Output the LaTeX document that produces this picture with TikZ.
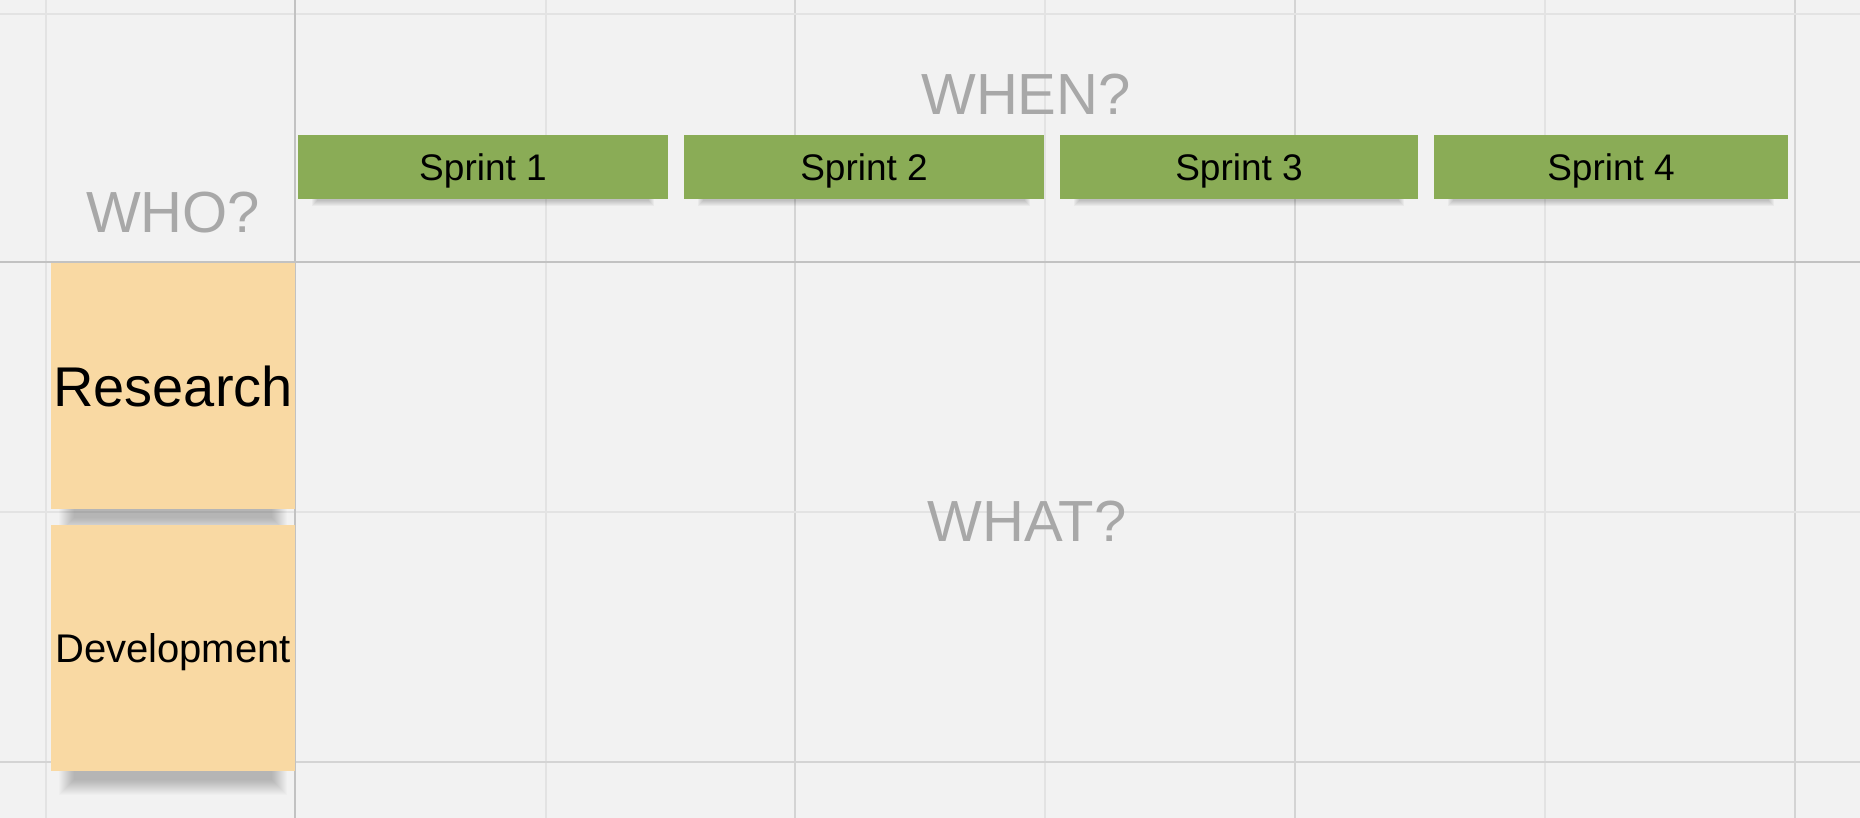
\documentclass[tikz,border=0pt]{standalone}
\usepackage{fontspec}
\setmainfont{Liberation Sans}
\definecolor{bg}{HTML}{F2F2F2}
\definecolor{gridminor}{HTML}{E3E3E3}
\definecolor{gridmajor}{HTML}{D4D4D4}
\definecolor{gridmain}{HTML}{C2C2C2}
\definecolor{sprintgreen}{HTML}{8AAC56}
\definecolor{stickyorange}{HTML}{F9D9A3}
\definecolor{labelgray}{HTML}{A8A8A8}
\newcommand\stickyshadow[4]{%
  \foreach \k in {0,...,15} {%
    \fill[black, opacity=0.014] (#1+8+\k, #2+10+\k) rectangle (#3-8-\k, #4+24-\k);
  }%
}
\newcommand\sprintshadow[4]{%
  \foreach \k in {0,...,5} {%
    \fill[black, opacity=0.035] (#1+14+\k, #2+2+\k) rectangle (#3-14-\k, #4+7-\k);
  }%
}
\begin{document}
\begin{tikzpicture}[x=1pt,y=-1pt,
  minorline/.style={draw=gridminor, line width=2pt},
  majorline/.style={draw=gridmajor, line width=2.2pt},
  mainline/.style={draw=gridmain, line width=2.6pt},
  sprintbox/.style={fill=sprintgreen, inner sep=0pt, minimum height=64pt,
    font=\fontsize{37}{37}\selectfont, text height=26.5pt, text depth=0pt},
  stickybox/.style={fill=stickyorange, inner sep=0pt, minimum width=244pt, minimum height=246pt},
  headlabel/.style={text=labelgray, anchor=base, inner sep=0pt, font=\fontsize{58}{58}\selectfont}
]
\useasboundingbox (0,0) rectangle (1860,818);
\fill[bg] (0,0) rectangle (1860,818);
% grid
\foreach \x in {46,546,1045,1545} \draw[minorline] (\x,0) -- (\x,818);
\foreach \x in {795,1295,1795} \draw[majorline] (\x,0) -- (\x,818);
\foreach \y in {14,512} \draw[minorline] (0,\y) -- (1860,\y);
\draw[majorline] (0,762) -- (1860,762);
\draw[mainline] (295,0) -- (295,818);
\draw[mainline] (0,262) -- (1860,262);
% labels
\node[headlabel] (when) at (1026,115) {WHEN?};
\node[headlabel] (who) at (173,233) {WHO?};
\node[headlabel] (what) at (1027,541) {WHAT?};
% shadows
\sprintshadow{298}{135}{668}{199}
\sprintshadow{684}{135}{1044}{199}
\sprintshadow{1060}{135}{1418}{199}
\sprintshadow{1434}{135}{1788}{199}
\stickyshadow{51}{263}{295}{509}
\stickyshadow{51}{525}{295}{771}
% sprints
\node[sprintbox, minimum width=370pt] (s1) at (483,167) {Sprint 1};
\node[sprintbox, minimum width=360pt] (s2) at (864,167) {Sprint 2};
\node[sprintbox, minimum width=358pt] (s3) at (1239,167) {Sprint 3};
\node[sprintbox, minimum width=354pt] (s4) at (1611,167) {Sprint 4};
% sticky notes
\node[stickybox, font=\fontsize{56}{56}\selectfont, text height=40pt, text depth=0pt] (research) at (173,386) {Research};
\node[stickybox, font=\fontsize{40}{40}\selectfont, text height=28.6pt, text depth=0pt] (dev) at (173,648) {Development};
\end{tikzpicture}
\end{document}
